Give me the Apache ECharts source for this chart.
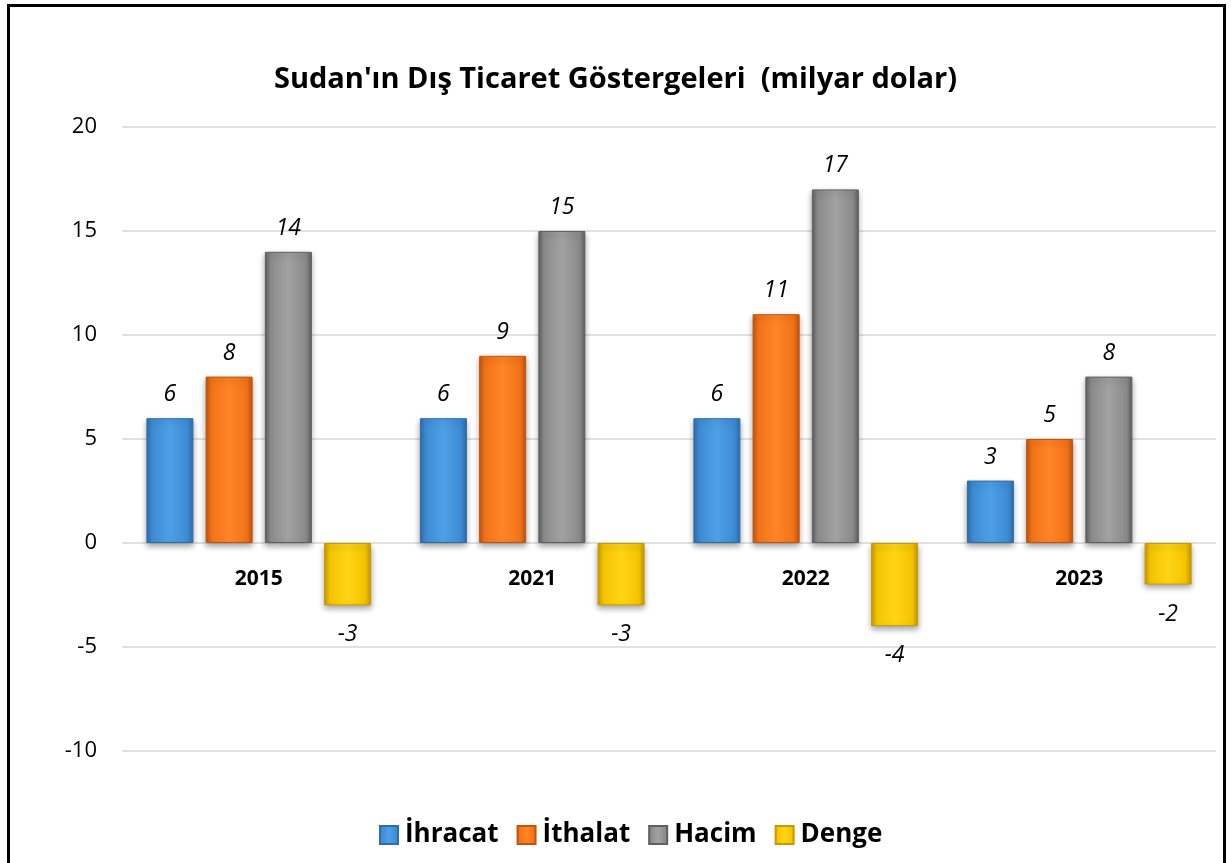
<!DOCTYPE html>
<html>

<head>
  <meta charset="utf-8">
  <script src="https://cdn.jsdelivr.net/npm/echarts@6.0.0/dist/echarts.min.js"></script>
  <title>Sudan'ın Dış Ticaret Göstergeleri</title>
</head>

<body style="margin: 0; overflow: hidden; background: #fff;">
  <div id="main" style="position: absolute; left: 0; top: 0; width: 1231px; height: 863px;"></div>
  <div style="position: absolute; left: 7px; top: 4px; width: 1213px; height: 900px; border: 3px solid #000; pointer-events: none;"></div>
  <script>
    var years = ['2015', '2021', '2022', '2023'];
    var ihracat = [6, 6, 6, 3];
    var ithalat = [8, 9, 11, 5];
    var hacim = [14, 15, 17, 8];
    var denge = [-3, -3, -4, -2];
    var yTicks = [-10, -5, 0, 5, 10, 15, 20];

    var font = '"Open Sans", Lato, sans-serif';
    var gridTop = 127, gridBottom = 112, chartHeight = 863;
    var yMin = yTicks[0], yMax = yTicks[yTicks.length - 1];
    // move the category axis up to the zero line
    var plotH = chartHeight - gridTop - gridBottom;
    var zeroOffset = -plotH * (0 - yMin) / (yMax - yMin);

    // bevel-like fill: darker sides, lighter middle
    function bevel(edge, mid, light) {
      return new echarts.graphic.LinearGradient(0, 0, 1, 0, [
        { offset: 0, color: edge },
        { offset: 0.12, color: mid },
        { offset: 0.5, color: light },
        { offset: 0.88, color: mid },
        { offset: 1, color: edge }
      ]);
    }

    function makeSeries(name, data, colors, negative) {
      return {
        name: name,
        type: 'bar',
        data: data,
        barWidth: 47,
        barGap: '26%',
        itemStyle: {
          color: bevel(colors[0], colors[1], colors[2]),
          borderColor: colors[0],
          borderWidth: 1,
          shadowColor: 'rgba(0,0,0,0.35)',
          shadowBlur: 6,
          shadowOffsetY: 3
        },
        label: {
          show: true,
          position: negative ? 'bottom' : 'top',
          distance: negative ? 18 : 12,
          fontFamily: font,
          fontStyle: 'italic',
          fontSize: 23,
          color: '#000'
        }
      };
    }

    var myChart = echarts.init(document.getElementById('main'));

    var option = {
      animation: false,
      title: {
        text: "Sudan'ın Dış Ticaret Göstergeleri  (milyar dolar)",
        left: 'center',
        top: 60,
        textStyle: {
          fontFamily: font,
          fontWeight: 'bold',
          fontSize: 29,
          color: '#000'
        }
      },
      legend: {
        bottom: 10,
        left: 374,
        icon: 'rect',
        itemWidth: 18,
        itemHeight: 18,
        itemGap: 18,
        textStyle: {
          fontFamily: font,
          fontWeight: 'bold',
          fontSize: 26,
          color: '#000',
          padding: [0, 0, 0, 2]
        },
        data: ['İhracat', 'İthalat', 'Hacim', 'Denge']
      },
      grid: {
        left: 122,
        right: 15,
        top: gridTop,
        bottom: gridBottom
      },
      xAxis: {
        type: 'category',
        data: years,
        position: 'bottom',
        offset: zeroOffset,
        axisLine: { show: false, onZero: false },
        axisTick: { show: false },
        axisLabel: {
          margin: 26,
          fontFamily: font,
          fontWeight: 'bold',
          fontSize: 21,
          color: '#000'
        }
      },
      yAxis: {
        type: 'value',
        min: yMin,
        max: yMax,
        interval: 5,
        axisLine: { show: false },
        axisTick: { show: false },
        splitLine: { lineStyle: { color: '#d9d9d9', width: 1.5 } },
        axisLabel: {
          margin: 25,
          fontFamily: font,
          fontSize: 22,
          color: '#000'
        }
      },
      series: [
        makeSeries('İhracat', ihracat, ['#2f6eaa', '#3d8bd4', '#4ea0e6'], false),
        makeSeries('İthalat', ithalat, ['#c2550c', '#f27318', '#ff8526'], false),
        makeSeries('Hacim', hacim, ['#606060', '#8a8a8a', '#a2a2a2'], false),
        makeSeries('Denge', denge, ['#c99a00', '#f5c400', '#ffd516'], true)
      ]
    };

    myChart.setOption(option);
  </script>
</body>

</html>
